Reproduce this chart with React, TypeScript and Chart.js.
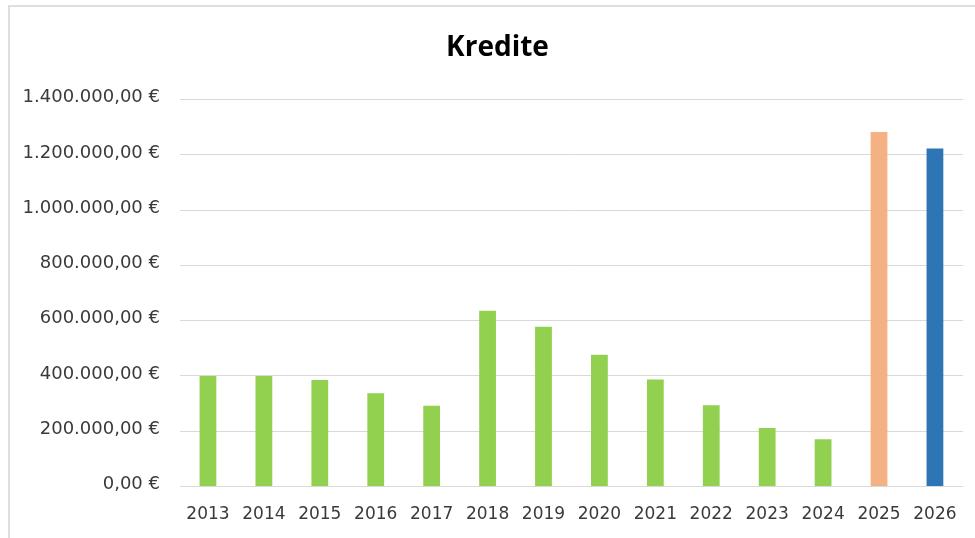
import React, { useEffect, useRef } from "react";
import { Chart, registerables } from "chart.js";

Chart.register(...registerables);

const titleText = "Kredite";
const categories = ["2013", "2014", "2015", "2016", "2017", "2018", "2019", "2020", "2021", "2022", "2023", "2024", "2025", "2026"];
const kredite = [400000, 400000, 385000, 337000, 292000, 636000, 578000, 477000, 387000, 294000, 212000, 171000, 1283000, 1223000];
const barColors = ["#92D050", "#92D050", "#92D050", "#92D050", "#92D050", "#92D050", "#92D050", "#92D050", "#92D050", "#92D050", "#92D050", "#92D050", "#F4B183", "#2E75B6"];
const yMin = 0;
const yMax = 1400000;
const yStep = 200000;

function formatEuro(v: number): string {
  const intPart = Math.round(v).toString().replace(/\B(?=(\d{3})+(?!\d))/g, ".");
  return intPart + ",00 €";
}

export default function App() {
  const ref = useRef<HTMLCanvasElement | null>(null);

  useEffect(() => {
    if (!ref.current) return;
    const chart = new Chart(ref.current, {
      type: "bar",
      data: {
        labels: categories,
        datasets: [
          {
            label: titleText,
            data: kredite,
            backgroundColor: barColors,
            borderWidth: 0,
            categoryPercentage: 1,
            barPercentage: 0.3,
            yAxisID: "y",
          },
        ],
      },
      options: {
        responsive: false,
        animation: false,
        layout: { padding: { left: 10, right: 0, top: 0, bottom: 0 } },
        plugins: {
          legend: { display: false },
          tooltip: { enabled: false },
          title: {
            display: true,
            text: titleText,
            color: "#000000",
            font: { family: "'Open Sans'", size: 28, weight: "bold" },
            padding: { top: 24, bottom: 35 },
          },
        },
        scales: {
          x: {
            grid: { display: false, drawTicks: false },
            border: { display: false },
            afterFit: (scale: any) => {
              scale.height = 51.5;
            },
            ticks: {
              color: "#3a3a3a",
              font: { family: "'DejaVu Sans'", size: 17 },
              padding: 18,
              maxRotation: 0,
              autoSkip: false,
            },
          },
          y: {
            position: "left",
            min: yMin,
            max: yMax,
            grid: { color: "#d9d9d9", lineWidth: 1, drawTicks: false },
            border: { display: false },
            afterFit: (scale: any) => {
              scale.width = 160;
            },
            ticks: {
              stepSize: yStep,
              color: "#3a3a3a",
              font: { family: "'DejaVu Sans'", size: 18 },
              padding: 20,
              labelOffset: -2,
              callback: (v: any) => formatEuro(Number(v)),
            },
          },
          yRight: {
            type: "linear",
            position: "right",
            display: true,
            min: yMin,
            max: yMax,
            grid: { display: false, drawTicks: false },
            border: { display: false },
            ticks: { display: false },
            afterFit: (scale: any) => {
              scale.width = 12;
            },
          },
        },
      } as any,
    });
    return () => chart.destroy();
  }, []);

  return (
    <div style={{ position: "absolute", left: 0, top: 0, width: 975, height: 538, background: "#ffffff", overflow: "hidden" }}>
      <div style={{ position: "absolute", left: 8, top: 5, width: 967, height: 533, borderTop: "2px solid #dedede", borderLeft: "2px solid #dedede", boxSizing: "border-box" }} />
      <canvas ref={ref} width={965} height={531} style={{ position: "absolute", left: 10, top: 7, display: "block" }} />
    </div>
  );
}
